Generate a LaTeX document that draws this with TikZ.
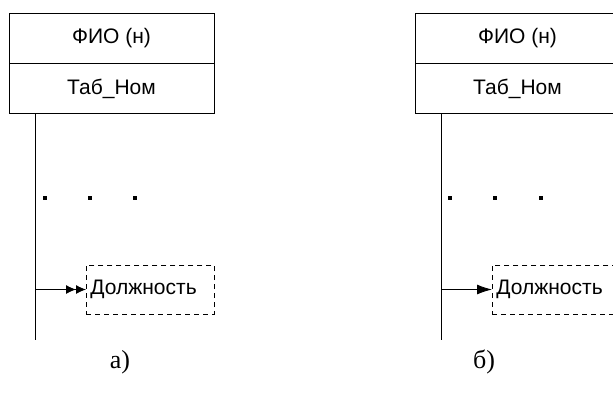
\documentclass[tikz,border=0pt]{standalone}
\usepackage{fontspec}
\setmainfont{Liberation Serif}
\newfontfamily\arialfont{Liberation Sans}
\usetikzlibrary{arrows.meta,positioning}

\tikzset{
	entity/.style={draw, line width=0.9pt, minimum width=205pt, minimum height=50pt, inner sep=0pt, font=\arialfont\fontsize{21}{24}\selectfont},
	attr/.style={draw, dashed, dash pattern=on 5pt off 4pt, line width=0.8pt, minimum width=128pt, minimum height=49pt, text width=120pt, inner sep=4pt, align=left, font=\arialfont\fontsize{21}{24}\selectfont},
	dotmark/.style={fill, minimum size=4pt, inner sep=0pt},
	caption/.style={anchor=base, font=\fontsize{26}{30}\selectfont},
}

\begin{document}
\begin{tikzpicture}[x=1pt, y=-1pt, line width=0.9pt]
				\useasboundingbox (0,0) rectangle (613,392);
				
				% a)
				\node[entity] at (111.5,38)                               (fioa) {ФИО (н)};
				\node[entity, below=0pt of fioa]                               (taba) {Таб\_Ном};
				\coordinate (topa) at (35,113);
				\coordinate (bota) at (35,340);
				\draw (topa) -- (bota);
				
				\node[dotmark] at (45,198)                               (da1) {};
				\node[dotmark] at (90,198)                               (da2) {};
				\node[dotmark] at (135,198)                               (da3) {};
				
				\node[attr, anchor=west] at (86,289.5)                               (posa) {Должность};
				\coordinate (froma) at (35,289.5);
				\draw[-{Latex[length=10pt,width=9pt]Latex[length=10pt,width=9pt]}] (froma) -- (posa);
				
				\node[caption] at (120,368)                               (capa) {а)};
				
				% b)
				\node[entity] at (517.5,38)                               (fiob) {ФИО (н)};
				\node[entity, below=0pt of fiob]                               (tabb) {Таб\_Ном};
				\coordinate (topb) at (441,113);
				\coordinate (botb) at (441,340);
				\draw (topb) -- (botb);
				
				\node[dotmark] at (450,198)                               (db1) {};
				\node[dotmark] at (495,198)                               (db2) {};
				\node[dotmark] at (541,198)                               (db3) {};
				
				\node[attr, anchor=west] at (492,289.5)                               (posb) {Должность};
				\coordinate (fromb) at (441,289.5);
				\draw[-{Latex[length=15pt,width=10pt]}] (fromb) -- (posb);
				
				\node[caption] at (484,368)                               (capb) {б)};
				
			\end{tikzpicture}
\end{document}
